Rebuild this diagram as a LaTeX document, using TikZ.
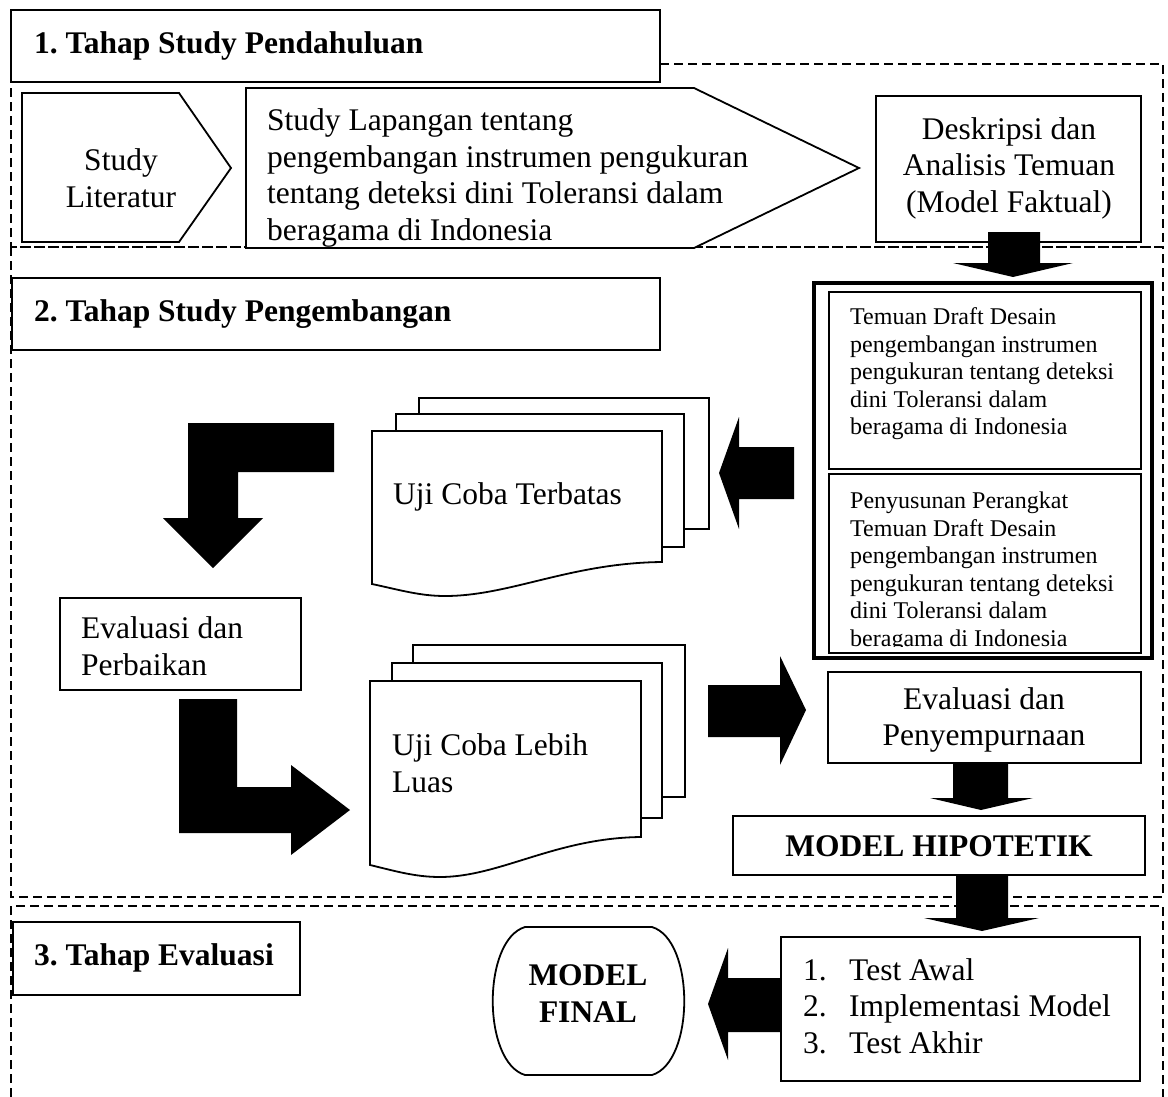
\documentclass[tikz,border=0pt]{standalone}
\usepackage{fontspec}
\setmainfont{Liberation Serif}
\frenchspacing
\begin{document}
\begin{tikzpicture}[x=1pt,y=-1pt,
  boxline/.style={draw=black, line width=1.8pt, fill=white},
  thickline/.style={draw=black, line width=4.5pt},
  dashline/.style={draw=black, line width=1.6pt, dash pattern=on 9pt off 5pt},
  blockarrow/.style={fill=black, draw=none},
  reg/.style={font=\fontsize{31.5}{36.5}\selectfont, inner sep=0pt},
  small/.style={font=\fontsize{24}{27.5}\selectfont, inner sep=0pt, align=left},
  bold/.style={font=\fontsize{31.5}{37}\selectfont\bfseries, inner sep=0pt}
]
\useasboundingbox (0,0) rectangle (1168,1097);
\fill[white] (0,0) rectangle (1168,1097);

% dashed sections
\draw[dashline] (660,64) -- (1163,64) -- (1163,247) -- (11,247) -- (11,82);
\draw[dashline] (11,247) rectangle (1163,897);
\draw[dashline] (11,1097) -- (11,906) -- (1163,906) -- (1163,1097);

% section 1
\draw[boxline] (11,10) rectangle (660,82);
\node[bold, anchor=west] (t1) at (34,46) {1. Tahap Study Pendahuluan};

\draw[boxline] (22,93) -- (179,93) -- (231,168) -- (179,242) -- (22,242) -- cycle;
\node[reg, align=center] (lit) at (121,178) {Study\\Literatur};

\draw[boxline] (246,88) -- (694,88) -- (859,168) -- (694,248) -- (246,248) -- cycle;
\node[reg, align=left, anchor=west] (lap) at (267,178) {Study Lapangan tentang\\pengembangan instrumen pengukuran\\tentang deteksi dini Toleransi dalam\\beragama di Indonesia};

\draw[boxline] (876,96) rectangle (1141,242);
\node[reg, align=center] (desk) at (1009,168) {Deskripsi dan\\Analisis Temuan\\(Model Faktual)};

% section 2
\draw[boxline] (12,278) rectangle (660,350);
\node[bold, anchor=west] (t2) at (34,314) {2. Tahap Study Pengembangan};

\draw[thickline, fill=white] (814,283) rectangle (1152,658);
\draw[boxline] (829,292) rectangle (1141,469);
\draw[boxline] (829,474) rectangle (1141,653);
\node[small, anchor=west] (temuan) at (850,374) {Temuan Draft Desain\\pengembangan instrumen\\pengukuran tentang deteksi\\dini Toleransi dalam\\beragama di Indonesia};
\begin{scope}
\clip (831,476) rectangle (1139,646);
\node[small, anchor=west] (susun) at (850,572) {Penyusunan Perangkat\\Temuan Draft Desain\\pengembangan instrumen\\pengukuran tentang deteksi\\dini Toleransi dalam\\beragama di Indonesia};
\end{scope}

% Uji Coba Terbatas stack
\draw[boxline] (419,398) rectangle (709,529);
\draw[boxline] (396,414) rectangle (684,547);
\draw[boxline] (372,431) -- (662,431) -- (662,562) .. controls (570,563) and (510,596) .. (445,596) .. controls (420,596) and (400,590) .. (372,584) -- cycle;
\node[reg, anchor=west] (terbatas) at (393,497) {Uji Coba Terbatas};

% Uji Coba Lebih Luas stack
\draw[boxline] (413,645) rectangle (685,797);
\draw[boxline] (392,663) rectangle (662,818);
\draw[boxline] (370,681) -- (641,681) -- (641,837) .. controls (555,838) and (500,877) .. (440,877) .. controls (415,877) and (395,871) .. (370,865) -- cycle;
\node[reg, align=left, anchor=west] (luas) at (392,763) {Uji Coba Lebih\\Luas};

\draw[boxline] (60,598) rectangle (301,690);
\node[reg, align=left, anchor=west] (perb) at (81,646) {Evaluasi dan\\Perbaikan};

\draw[boxline] (828,672) rectangle (1141,763);
\node[reg, align=center] (peny) at (984,720) {Evaluasi dan\\Penyempurnaan};

\draw[boxline] (733,816) rectangle (1145,875);
\node[bold] (hip) at (939,846) {MODEL HIPOTETIK};

% section 3
\draw[boxline] (13,922) rectangle (300,995);
\node[bold, anchor=west] (t3) at (34,958) {3. Tahap Evaluasi};

\draw[boxline] (781,937) rectangle (1140,1081);
\node[reg, align=left, anchor=west] (test) at (803,1006) {\makebox[46pt][l]{1.}Test Awal\\\makebox[46pt][l]{2.}Implementasi Model\\\makebox[46pt][l]{3.}Test Akhir};

\draw[boxline] (525,927) -- (652,927) .. controls (695,940) and (695,1062) .. (652,1075) -- (525,1075) .. controls (482,1062) and (482,940) .. (525,927) -- cycle;
\node[bold, align=center] (final) at (588,994) {MODEL\\FINAL};

% block arrows
\fill[blockarrow] (988,232) -- (1040,232) -- (1040,263) -- (1073,263) -- (1013,277) -- (953,263) -- (988,263) -- cycle;
\fill[blockarrow] (334,423) -- (334,472) -- (238,472) -- (238,518) -- (263,518) -- (213,568) -- (163,518) -- (188,518) -- (188,423) -- cycle;
\fill[blockarrow] (179,699) -- (237,699) -- (237,787) -- (291,787) -- (291,765) -- (350,810) -- (291,855) -- (291,833) -- (179,833) -- cycle;
\fill[blockarrow] (794,447) -- (794,499) -- (739,499) -- (739,529) -- (719,473) -- (739,417) -- (739,447) -- cycle;
\fill[blockarrow] (708,685) -- (780,685) -- (780,656) -- (806,710) -- (780,765) -- (780,737) -- (708,737) -- cycle;
\fill[blockarrow] (953,763) -- (1008,763) -- (1008,798) -- (1033,798) -- (981,810) -- (930,798) -- (953,798) -- cycle;
\fill[blockarrow] (956,875) -- (1008,875) -- (1008,918) -- (1039,918) -- (982,931) -- (924,918) -- (956,918) -- cycle;
\fill[blockarrow] (781,978) -- (781,1032) -- (728,1032) -- (728,1060) -- (708,1004) -- (728,948) -- (728,978) -- cycle;
\end{tikzpicture}
\end{document}
